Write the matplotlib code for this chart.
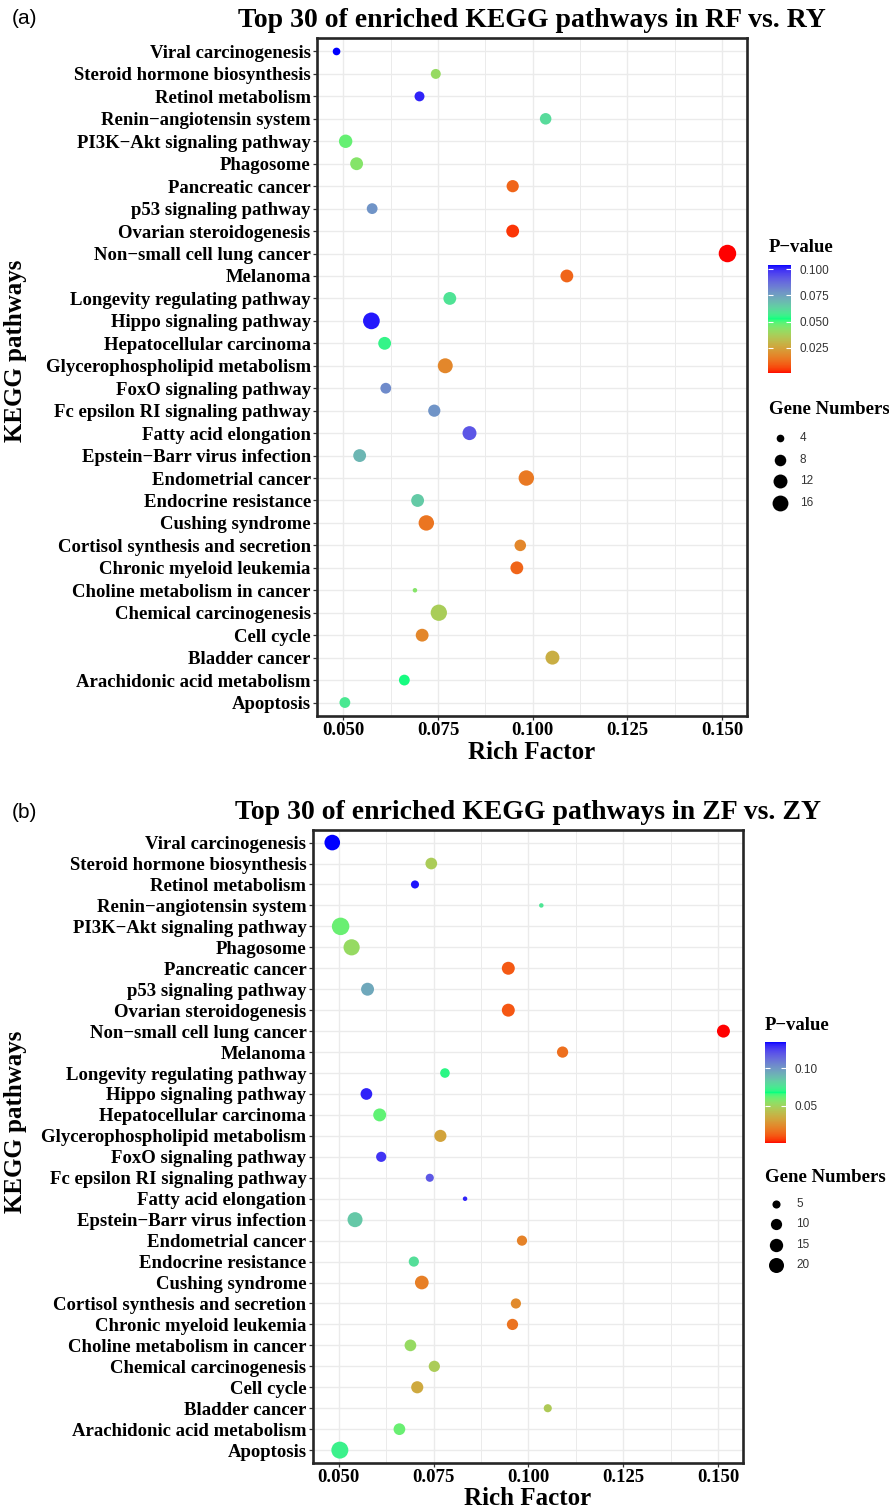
import numpy as np
import matplotlib
matplotlib.use("Agg")
import matplotlib.pyplot as plt
from matplotlib.colors import ListedColormap
from matplotlib.ticker import MultipleLocator, FormatStrFormatter

SERIF = ['Liberation Serif', 'DejaVu Serif']
SANS = ['Liberation Sans', 'DejaVu Sans']
plt.rcParams['font.family'] = SERIF

# pathways, top to bottom as shown on the y axis
pathways = [
    "Viral carcinogenesis", "Steroid hormone biosynthesis", "Retinol metabolism",
    "Renin\u2212angiotensin system", "PI3K\u2212Akt signaling pathway", "Phagosome",
    "Pancreatic cancer", "p53 signaling pathway", "Ovarian steroidogenesis",
    "Non\u2212small cell lung cancer", "Melanoma", "Longevity regulating pathway",
    "Hippo signaling pathway", "Hepatocellular carcinoma", "Glycerophospholipid metabolism",
    "FoxO signaling pathway", "Fc epsilon RI signaling pathway", "Fatty acid elongation",
    "Epstein\u2212Barr virus infection", "Endometrial cancer", "Endocrine resistance",
    "Cushing syndrome", "Cortisol synthesis and secretion", "Chronic myeloid leukemia",
    "Choline metabolism in cancer", "Chemical carcinogenesis", "Cell cycle",
    "Bladder cancer", "Arachidonic acid metabolism", "Apoptosis",
]

# (a) RF vs. RY
rich_a = [0.0482, 0.0744, 0.0701, 0.1034, 0.0506, 0.0535, 0.0947, 0.0576, 0.0947, 0.1514,
          0.1090, 0.0781, 0.0574, 0.0609, 0.0769, 0.0612, 0.0740, 0.0833, 0.0543, 0.0983,
          0.0696, 0.0719, 0.0967, 0.0958, 0.0689, 0.0752, 0.0708, 0.1052, 0.0661, 0.0504]
pval_a = [0.104, 0.041, 0.101, 0.061, 0.048, 0.044, 0.011, 0.078, 0.004, 0.001,
          0.011, 0.059, 0.102, 0.055, 0.018, 0.080, 0.078, 0.092, 0.070, 0.015,
          0.065, 0.014, 0.018, 0.011, 0.044, 0.037, 0.018, 0.028, 0.053, 0.058]
genes_a = [4, 6, 6, 8, 11, 10, 9, 7, 10, 20, 10, 10, 18, 10, 14,
           7, 9, 12, 10, 15, 10, 15, 8, 10, 3, 17, 10, 12, 7, 7]
size_legend_a = [4, 8, 12, 16]
p_ticks_a = [0.025, 0.050, 0.075, 0.100]

# (b) ZF vs. ZY
rich_b = [0.0483, 0.0744, 0.0701, 0.1034, 0.0505, 0.0534, 0.0947, 0.0576, 0.0947, 0.1514,
          0.1090, 0.0780, 0.0573, 0.0608, 0.0768, 0.0612, 0.0740, 0.0833, 0.0543, 0.0983,
          0.0698, 0.0719, 0.0967, 0.0958, 0.0689, 0.0752, 0.0707, 0.1051, 0.0660, 0.0503]
pval_b = [0.135, 0.047, 0.133, 0.076, 0.061, 0.053, 0.011, 0.095, 0.010, 0.0005,
          0.016, 0.070, 0.131, 0.062, 0.032, 0.128, 0.119, 0.131, 0.085, 0.021,
          0.078, 0.020, 0.024, 0.017, 0.053, 0.047, 0.034, 0.046, 0.061, 0.072]
genes_b = [22, 11, 5, 3, 29, 24, 14, 14, 14, 14, 10, 7, 11, 14, 12,
           8, 5, 3, 20, 8, 8, 16, 8, 10, 11, 10, 12, 5, 11, 27]
size_legend_b = [5, 10, 15, 20]
p_ticks_b = [0.05, 0.10]


# colour ramp red -> springgreen -> blue, interpolated in CIELAB like ggplot
M = np.array([[0.4124, 0.3576, 0.1805], [0.2126, 0.7152, 0.0722], [0.0193, 0.1192, 0.9505]])
WHITE = np.array([0.95047, 1.0, 1.08883])


def srgb_to_lab(c):
    c = np.asarray(c, float)
    lin = np.where(c <= 0.04045, c / 12.92, ((c + 0.055) / 1.055) ** 2.4)
    xyz = lin @ M.T / WHITE
    f = np.where(xyz > 0.008856, np.cbrt(xyz), 7.787 * xyz + 16 / 116)
    return np.stack([116 * f[..., 1] - 16, 500 * (f[..., 0] - f[..., 1]),
                     200 * (f[..., 1] - f[..., 2])], -1)


def lab_to_srgb(lab):
    fy = (lab[..., 0] + 16) / 116
    f = np.stack([fy + lab[..., 1] / 500, fy, fy - lab[..., 2] / 200], -1)
    xyz = np.where(f ** 3 > 0.008856, f ** 3, (f - 16 / 116) / 7.787) * WHITE
    lin = np.clip(xyz @ np.linalg.inv(M).T, 0, 1)
    rgb = np.where(lin <= 0.0031308, 12.92 * lin, 1.055 * lin ** (1 / 2.4) - 0.055)
    return np.clip(rgb, 0, 1)


anchors = srgb_to_lab(np.array([[1, 0, 0], [0, 1, 0.498], [0, 0, 1]]))
t = np.linspace(0, 1, 256)
lab = np.stack([np.interp(t, [0, 0.5, 1], anchors[:, k]) for k in range(3)], -1)
cmap = ListedColormap(lab_to_srgb(lab))


def dot_size(v, vmin, vmax):
    # diameter in px, area grows linearly with gene count (scale_size style)
    d = 4.5 + 13.0 * np.sqrt((np.asarray(v, float) - vmin) / (vmax - vmin))
    return (d * 0.72) ** 2


def px(x, y, w, h):
    return [x / 889, 1 - (y + h) / 1509, w / 889, h / 1509]


def draw_panel(ax, cax, lax, rich, pvals, genes, title, p_ticks, p_fmt, size_vals):
    n = len(pathways)
    y = np.arange(n)
    gmin, gmax = min(genes), max(genes)
    sc = ax.scatter(rich, y, s=dot_size(genes, gmin, gmax), c=pvals, cmap=cmap,
                    vmin=min(pvals), vmax=max(pvals), linewidths=0, zorder=3)
    ax.margins(x=0.05)
    ax.set_ylim(n - 0.4, -0.6)
    ax.set_yticks(y, pathways)
    ax.xaxis.set_major_locator(MultipleLocator(0.025))
    ax.xaxis.set_minor_locator(MultipleLocator(0.0125))
    ax.xaxis.set_major_formatter(FormatStrFormatter('%.3f'))
    ax.grid(which='major', color='#EBEBEB', lw=1.0)
    ax.grid(which='minor', axis='x', color='#EBEBEB', lw=0.7)
    ax.set_axisbelow(True)
    ax.tick_params(which='major', length=3, width=0.9, color='#333333', pad=1.5,
                   labelsize=13.5)
    ax.tick_params(which='minor', length=0)
    for lbl in ax.get_xticklabels() + ax.get_yticklabels():
        lbl.set_fontweight('bold')
    for sp in ax.spines.values():
        sp.set_linewidth(1.9)
        sp.set_color('#262626')
    ax.set_title(title, fontsize=20, fontweight='bold', pad=8)
    ax.set_xlabel('Rich Factor', fontsize=18, fontweight='bold', labelpad=1)

    cb = plt.colorbar(sc, cax=cax)
    cb.outline.set_visible(False)
    cb.set_ticks(p_ticks)
    cb.ax.yaxis.set_major_formatter(FormatStrFormatter(p_fmt))
    cb.minorticks_off()
    cax.tick_params(axis='y', direction='in', length=3.5, width=0.8, color='white',
                    left=True, right=True, labelright=True, labelleft=False,
                    pad=6, labelsize=8.5, labelcolor='#333333')
    for lbl in cax.get_yticklabels():
        lbl.set_family(SANS)

    lax.set_xlim(0, 124)
    lax.set_ylim(len(size_vals) - 0.5, -0.5)
    lax.axis('off')
    for i, v in enumerate(size_vals):
        lax.scatter(15, i, s=dot_size(v, gmin, gmax), c='black', linewidths=0, clip_on=False)
        lax.text(35, i, str(v), va='center', ha='left', fontsize=8.5,
                 family=SANS, color='#333333')


fig = plt.figure(figsize=(8.89, 15.09), dpi=100)

ax_a = fig.add_axes(px(317, 38, 430, 678))
cax_a = fig.add_axes(px(768, 265, 23, 108))
lax_a = fig.add_axes(px(765, 427, 124, 87))
draw_panel(ax_a, cax_a, lax_a, rich_a, pval_a, genes_a,
           'Top 30 of enriched KEGG pathways in RF vs. RY', p_ticks_a, '%.3f', size_legend_a)

ax_b = fig.add_axes(px(312.7, 830, 430.3, 632.7))
cax_b = fig.add_axes(px(764.7, 1042, 21, 101))
lax_b = fig.add_axes(px(761, 1194, 124, 81))
draw_panel(ax_b, cax_b, lax_b, rich_b, pval_b, genes_b,
           'Top 30 of enriched KEGG pathways in ZF vs. ZY', p_ticks_b, '%.2f', size_legend_b)

# panel letters, y labels and legend titles
for letter, ly, ylab_y, pv_x, pv_y, gn_y in [('(a)', 19, 351, 769, 247, 410),
                                             ('(b)', 812, 1122, 765, 1026, 1177)]:
    fig.text(12 / 889, 1 - ly / 1509, letter, ha='left', va='center', fontsize=15, family=SANS)
    fig.text(16 / 889, 1 - ylab_y / 1509, 'KEGG pathways', rotation=90, ha='center',
             va='center', fontsize=18, fontweight='bold')
    fig.text(pv_x / 889, 1 - pv_y / 1509, 'P\u2212value', ha='left', va='center',
             fontsize=13.5, fontweight='bold')
    fig.text(pv_x / 889, 1 - gn_y / 1509, 'Gene Numbers', ha='left', va='center',
             fontsize=13.5, fontweight='bold')

fig.savefig('out.png', dpi=100)
